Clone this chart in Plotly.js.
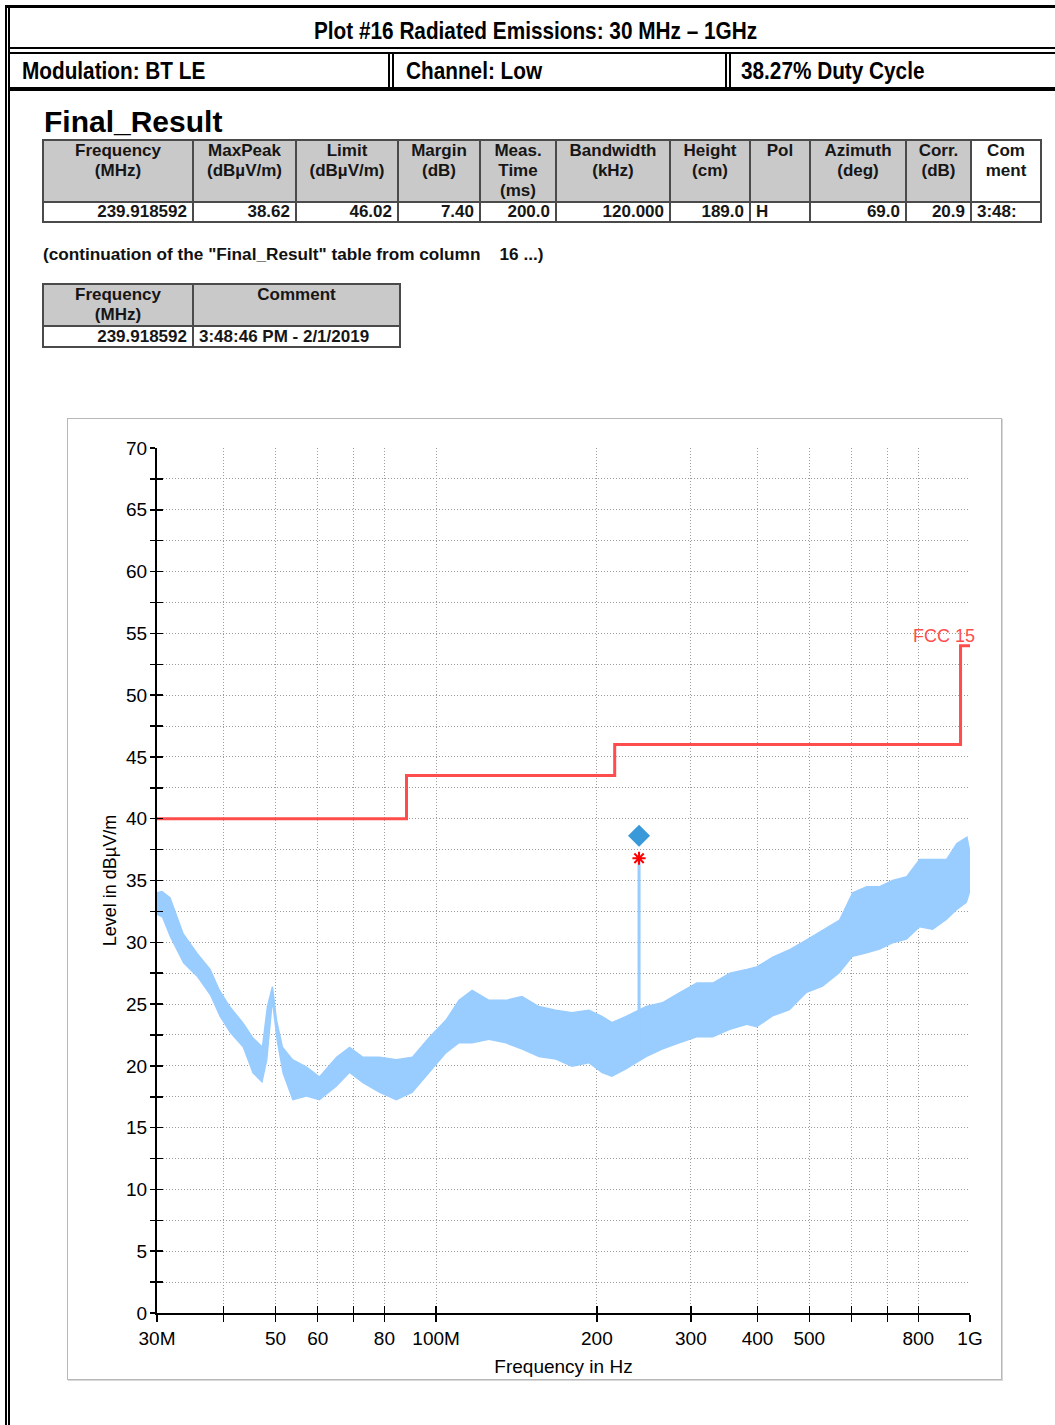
<!DOCTYPE html>
<html><head><meta charset="utf-8">
<script src="https://cdn.plot.ly/plotly-3.0.1.min.js"></script>
<style>
html,body{margin:0;padding:0;background:#fff;}
body{width:1055px;height:1425px;position:relative;overflow:hidden;font-family:"Liberation Sans",Arial,sans-serif;}
.bar{position:absolute;background:#000;}
.hdr{position:absolute;font-family:"Liberation Sans",Arial,sans-serif;font-weight:bold;font-size:24px;line-height:24px;color:#000;white-space:nowrap;transform:scaleX(0.865);transform-origin:0 50%;}
.txt{position:absolute;font-weight:bold;color:#111;white-space:nowrap;}
table.res{position:absolute;border-collapse:collapse;table-layout:fixed;font-weight:bold;font-size:17px;color:#161616;}
table.res td{border:2px solid #4a4a4a;padding:0 5px;overflow:hidden;white-space:nowrap;}
table.res tr.h td{background:#c9c9c9;text-align:center;vertical-align:top;line-height:20px;}
table.res tr.d td{background:#fff;text-align:right;line-height:18px;}
#frame{position:absolute;left:67px;top:418px;width:933px;height:960px;border:1px solid #b8b8b8;box-shadow:1px 1px 0 #d8d8d8;pointer-events:none;}
#chart{position:absolute;left:67px;top:418px;width:935px;height:962px;}
</style></head>
<body>
<!-- page frame -->
<div class="bar" style="left:5px;top:5px;width:2px;height:1420px"></div>
<div class="bar" style="left:8px;top:5px;width:2px;height:1420px"></div>
<div class="bar" style="left:5px;top:5px;width:1050px;height:3px"></div>
<div class="bar" style="left:8px;top:47px;width:1047px;height:2px"></div>
<div class="bar" style="left:8px;top:52px;width:1047px;height:2px"></div>
<div class="bar" style="left:8px;top:87px;width:1047px;height:4px"></div>
<div class="bar" style="left:388px;top:52px;width:2px;height:36px"></div>
<div class="bar" style="left:392px;top:52px;width:2px;height:36px"></div>
<div class="bar" style="left:725px;top:52px;width:2px;height:36px"></div>
<div class="bar" style="left:729px;top:52px;width:2px;height:36px"></div>

<div id="h1" class="hdr" style="left:314px;top:19px"></div>
<div id="h2a" class="hdr" style="left:22px;top:59px"></div>
<div id="h2b" class="hdr" style="left:406px;top:59px"></div>
<div id="h2c" class="hdr" style="left:741px;top:59px"></div>

<div id="frTitle" class="txt" style="left:44px;top:107px;font-size:30px;line-height:30px;color:#000"></div>
<table id="t1" class="res" style="left:42px;top:139px"></table>
<div id="cont" class="txt" style="left:43px;top:245px;font-size:17.2px;line-height:18px"></div>
<table id="t2" class="res" style="left:42px;top:283px"></table>

<div id="chart"></div>
<div id="frame"></div>

<script>
// ---------- header texts ----------
var plotTitle = "Plot #16 Radiated Emissions: 30 MHz \u2013 1GHz";
var modulationText = "Modulation: BT LE";
var channelText = "Channel: Low";
var dutyText = "38.27% Duty Cycle";

// ---------- Final_Result table ----------
var tableTitle = "Final_Result";
var resultHeaders = ["Frequency<br>(MHz)","MaxPeak<br>(dB\u00b5V/m)","Limit<br>(dB\u00b5V/m)","Margin<br>(dB)","Meas.<br>Time<br>(ms)","Bandwidth<br>(kHz)","Height<br>(cm)","Pol","Azimuth<br>(deg)","Corr.<br>(dB)","Com<br>ment"];
var resultRow = ["239.918592","38.62","46.02","7.40","200.0","120.000","189.0","H","69.0","20.9","3:48:"];
var continuationText = '(continuation of the "Final_Result" table from column \u00a0\u00a0 16 ...)';
var commentHeaders = ["Frequency<br>(MHz)","Comment"];
var commentRow = ["239.918592","3:48:46 PM - 2/1/2019"];

// ---------- chart data ----------
var envFreqMHz = [30,30.65,31.72,33.57,35.65,37.71,39.27,41.01,43.40,45.28,47.27,48.31,49.36,50.22,51.53,53.80,57.18,60.48,65.10,68.85,72.82,78.30,84.20,90.29,97.09,104.4,110.4,116.8,125.6,135.1,144.8,155.7,167.4,179.6,193.2,204.4,213.4,227.0,247.6,265.3,285.5,307.9,329.9,355.1,381.9,398.7,427.2,459.7,494.6,530.0,570.0,603.0,640.5,677.5,716.5,761.2,805.0,851.5,904.4,945.0,986.9,1000];
var envUpper = [34.0,34.1,33.6,30.7,29.1,27.8,26.1,24.8,23.5,22.3,21.5,24.8,26.4,23.7,21.5,20.5,19.9,19.1,20.7,21.5,20.7,20.7,20.5,20.7,22.3,23.7,25.3,26.1,25.3,25.3,25.6,24.8,24.5,24.3,24.5,24.0,23.5,24.0,24.8,25.1,25.9,26.7,26.7,27.5,27.8,28.0,28.8,29.4,30.2,31.0,31.8,34.0,34.5,34.5,35.0,35.3,36.7,36.7,36.7,38.0,38.5,37.2];
var envLower = [32.2,32.0,30.4,28.3,27.2,25.7,24.0,22.7,21.5,19.4,18.6,20.5,24.8,22.1,19.4,17.2,17.5,17.2,18.3,19.4,18.6,17.8,17.2,17.8,19.4,21.0,21.8,21.8,22.1,21.8,21.3,20.7,20.5,19.9,20.2,19.4,19.1,19.7,20.7,21.3,21.8,22.3,22.3,22.9,23.3,23.1,24.0,24.5,25.9,26.4,27.5,28.8,29.1,29.4,29.9,30.2,31.2,31.0,31.8,32.6,33.2,34.0];
var spikeFreqMHz = [239.918592, 239.918592];
var spikeLevel = [20.5, 36.8];

var limitFreqMHz = [30, 88, 88, 216, 216, 960, 960, 1000];
var limitLevel   = [40, 40, 43.5, 43.5, 46, 46, 54, 54];
var limitName = "FCC 15";

var finalFreqMHz = [239.918592];
var finalMaxPeak = [38.62];
var previewFreqMHz = [239.918592];
var previewPeak = [36.8];

var xTickVals = [30,40,50,60,70,80,100,200,300,400,500,600,700,800,1000];
var xTickText = ["30M","","50","60","","80","100M","200","300","400","500","","","800","1G"];
var xTitle = "Frequency in Hz";
var yTitle = "Level in dB\u00b5V/m";

// ---------- build page text ----------
document.getElementById('h1').textContent = plotTitle;
document.getElementById('h2a').textContent = modulationText;
document.getElementById('h2b').textContent = channelText;
document.getElementById('h2c').textContent = dutyText;
document.getElementById('frTitle').textContent = tableTitle;
document.getElementById('cont').textContent = continuationText;

function buildTable(id, widths, headers, row, leftCols, whiteHeadCols, hHeight, dHeight){
  var t = document.getElementById(id);
  var cg = '<colgroup>' + widths.map(function(w){return '<col style="width:'+w+'px">';}).join('') + '</colgroup>';
  var h = '<tr class="h" style="height:'+hHeight+'px">' + headers.map(function(s,i){
    return '<td' + (whiteHeadCols.indexOf(i)>=0 ? ' style="background:#fff"' : '') + '>' + s + '</td>';}).join('') + '</tr>';
  var d = '<tr class="d" style="height:'+dHeight+'px">' + row.map(function(s,i){
    return '<td' + (leftCols.indexOf(i)>=0 ? ' style="text-align:left"' : '') + '>' + s + '</td>';}).join('') + '</tr>';
  t.innerHTML = cg + h + d;
  var tw = widths.reduce(function(a,b){return a+b;},0);
  t.style.width = tw + 'px';
}
buildTable('t1',[150,103,102,82,76,114,80,60,96,65,70],resultHeaders,resultRow,[7,10],[10],62,20);
buildTable('t2',[150,207],commentHeaders,commentRow,[1],[],42,21);

// ---------- chart ----------
var blue = 'rgb(153,204,255)';
var red = 'rgb(255,77,77)';
var fam = '"Liberation Sans", Arial, sans-serif';
var tickFont = {family:fam, size:19, color:'#000'};
var gridCol = '#9c9c9c';
var gridDash = '1px,2px';

var traces = [
  {x:envFreqMHz, y:envLower, mode:'lines', line:{width:0, color:blue}, hoverinfo:'skip'},
  {x:envFreqMHz, y:envUpper, mode:'lines', fill:'tonexty', fillcolor:blue, line:{width:1.5, color:blue}, hoverinfo:'skip'},
  {x:spikeFreqMHz, y:spikeLevel, mode:'lines', line:{width:3, color:blue}},
  {x:limitFreqMHz, y:limitLevel, mode:'lines', line:{width:3, color:red}},
  {x:previewFreqMHz, y:previewPeak, mode:'markers', marker:{symbol:'asterisk-open', size:11, color:'red', line:{width:2, color:'red'}}},
  {x:finalFreqMHz, y:finalMaxPeak, mode:'markers', marker:{symbol:'diamond', size:17, color:'rgb(58,154,217)'}},
  {x:[], y:[], xaxis:'x2', yaxis:'y2', mode:'markers'}
];

var gridStyle = {showgrid:true, gridcolor:gridCol, griddash:gridDash, gridwidth:1};

var layout = {
  width:935, height:962,
  margin:{l:90, r:32, t:30, b:67, pad:0},
  paper_bgcolor:'rgba(0,0,0,0)', plot_bgcolor:'#fff',
  showlegend:false,
  xaxis:Object.assign({
    type:'log', range:[Math.log10(30), 3], tickmode:'array', tickvals:xTickVals, ticktext:xTickText,
    ticks:'outside', ticklen:7, tickwidth:1.5, tickcolor:'#000',
    showline:true, linecolor:'#000', linewidth:2, zeroline:false,
    tickfont:tickFont, ticklabelstandoff:0,
    title:{text:xTitle, font:{family:fam, size:19, color:'#000'}, standoff:12}
  }, gridStyle),
  yaxis:Object.assign({
    range:[0,70], tick0:0, dtick:5,
    ticks:'outside', ticklen:5, tickwidth:1.5, tickcolor:'#000',
    showline:true, linecolor:'#000', linewidth:2, zeroline:false,
    tickfont:tickFont, ticklabelstandoff:-1,
    minor:{dtick:2.5, tick0:0, ticks:'outside', ticklen:5, tickwidth:1.5, tickcolor:'#000', showgrid:true, gridcolor:gridCol, griddash:gridDash, gridwidth:1},
    title:{text:yTitle, font:{family:fam, size:18, color:'#000'}, standoff:5}
  }, gridStyle),
  xaxis2:{overlaying:'x', anchor:'y', type:'log', range:[Math.log10(30), 3], tickmode:'array', tickvals:xTickVals,
    ticks:'inside', ticklen:7, tickwidth:1.5, tickcolor:'#000', showticklabels:false, showgrid:false, showline:false, zeroline:false, side:'bottom'},
  yaxis2:{overlaying:'y', anchor:'x', range:[0,70], tick0:0, dtick:5, ticks:'inside', ticklen:6, tickwidth:1.5, tickcolor:'#000',
    minor:{dtick:2.5, tick0:0, ticks:'inside', ticklen:6, tickwidth:1.5, tickcolor:'#000'},
    showticklabels:false, showgrid:false, showline:false, zeroline:false, side:'left'},
  annotations:[{x:3, y:54, xref:'x', yref:'y', text:limitName, showarrow:false, xanchor:'right', yanchor:'bottom',
    xshift:7, yshift:-2, font:{family:fam, size:18, color:red}}]
};

Plotly.newPlot('chart', traces, layout, {staticPlot:true, displayModeBar:false});
</script>
</body></html>
